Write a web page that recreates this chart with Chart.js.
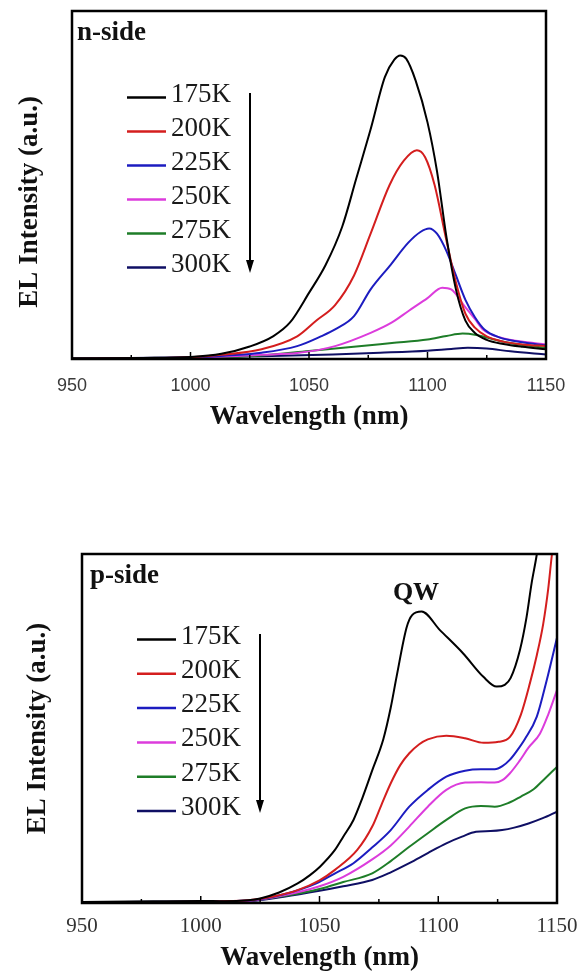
<!DOCTYPE html>
<html>
<head>
<meta charset="utf-8">
<title>EL spectra vs temperature</title>
<script src="https://cdn.jsdelivr.net/npm/chart.js@4.4.1/dist/chart.umd.min.js"></script>
<style>
  body { margin: 0; background: #fff; }
  canvas { position: absolute; left: 0; }
  #nSide { top: 0; }
  #pSide { top: 520px; }
</style>
</head>
<body>
<canvas id="nSide" width="583" height="450"></canvas>
<canvas id="pSide" width="583" height="455"></canvas>
<script>
// temperatures, top to bottom
const temps = ['175K', '200K', '225K', '250K', '275K', '300K'];
const xTicks = [950, 1000, 1050, 1100, 1150];

// n-side spectra: wavelength (nm) / EL intensity (a.u.)
const nWl175 = [950, 980, 1000, 1013, 1025, 1035, 1042, 1050, 1057, 1064, 1070, 1076, 1082, 1086, 1088.5, 1091, 1095, 1100, 1104, 1108, 1112, 1116, 1120, 1125, 1132, 1140, 1150];
const nEl175 = [0.2, 0.3, 0.6, 1.5, 3.6, 6.6, 10.5, 19, 27, 38, 52, 66, 81, 86, 87.2, 86.3, 80, 68, 54, 35, 20, 11, 7.5, 5.5, 4.3, 3.5, 2.8];
const nWl200 = [950, 980, 1000, 1013, 1030, 1045, 1053, 1061, 1069, 1076, 1084, 1090, 1095.5, 1099, 1103, 1107.7, 1112, 1116, 1120, 1125, 1132, 1140, 1150];
const nEl200 = [0.1, 0.2, 0.5, 1.2, 2.8, 6.5, 11, 15.5, 24, 36, 50, 57, 60, 58, 50, 35, 22, 13, 9, 6.5, 5, 4.2, 3.7];
const nWl225 = [950, 980, 1000, 1015, 1030, 1045, 1055, 1061, 1069, 1076, 1084, 1092, 1097, 1100.7, 1104, 1108, 1112, 1116, 1120, 1124, 1130, 1140, 1150];
const nEl225 = [0.1, 0.2, 0.4, 1, 1.8, 3.7, 6.5, 8.5, 12.3, 20, 26.7, 33.5, 36.5, 37.5, 36, 31, 24, 17, 12, 8.5, 6.3, 4.8, 3.9];
const nWl250 = [950, 990, 1010, 1030, 1045, 1061, 1076, 1085, 1092, 1100, 1106.2, 1110, 1115.6, 1120, 1123.4, 1131, 1139, 1150];
const nEl250 = [0, 0.2, 0.6, 1.2, 1.7, 3.7, 7.5, 10.5, 13.8, 17.5, 20.5, 20, 15.2, 11.5, 8.5, 6.1, 5.1, 4.2];
const nWl275 = [950, 1000, 1030, 1050, 1070, 1085, 1100, 1108, 1114.8, 1120, 1131, 1140, 1150];
const nEl275 = [0.1, 0.3, 1, 2.3, 3.6, 4.6, 5.6, 6.6, 7.3, 7, 5.1, 4, 3.2];
const nWl300 = [950, 1000, 1030, 1060, 1080, 1100, 1110, 1117, 1125, 1135, 1150];
const nEl300 = [0.1, 0.5, 0.8, 1.3, 1.8, 2.4, 2.9, 3.2, 3, 2.2, 1.3];

// p-side spectra
const pWl175 = [950, 980, 1000, 1010, 1020, 1025, 1033, 1040.8, 1046, 1050.2, 1056.5, 1060, 1064.3, 1068, 1072.2, 1076.9, 1080, 1082.5, 1086.7, 1089, 1093, 1100.7, 1110.5, 1119, 1124.6, 1128, 1130.5, 1134.4, 1137.2, 1139.3, 1141.4, 1143];
const pEl175 = [0.3, 0.5, 0.6, 0.5, 0.8, 1.3, 3, 5.6, 8, 10.4, 15.2, 19, 23.8, 30, 38, 47, 56, 65, 79, 82.5, 83.5, 78.2, 71.5, 64.8, 62, 62.5, 64.5, 72.5, 82, 91.6, 99.5, 107];
const pWl200 = [950, 1000, 1020, 1030, 1040.8, 1050, 1056.5, 1065.9, 1072.2, 1076, 1080, 1084, 1087.8, 1092, 1095.6, 1103.4, 1111.3, 1119.1, 1125.4, 1130.2, 1134.8, 1138.6, 1141.5, 1144.2, 1146.3, 1147.8, 1149.5];
const pEl200 = [0.2, 0.4, 0.8, 1.8, 3.7, 6.5, 9.5, 15.2, 21.9, 28, 34.3, 39.5, 42.9, 45.5, 46.9, 47.9, 47.2, 45.9, 46.2, 47.6, 54, 63, 71, 80, 90, 99.5, 108];
const pWl225 = [950, 1000, 1020, 1035, 1048.7, 1056, 1064.3, 1072, 1080, 1087.8, 1095.6, 1103.4, 1111.3, 1118, 1123.8, 1127, 1130.1, 1133, 1136.5, 1141.5, 1145.7, 1150];
const pEl225 = [0.2, 0.4, 0.7, 2.5, 5.6, 8.3, 11.4, 15.8, 20.9, 27.6, 32.4, 36.2, 37.9, 38.3, 38.3, 39.2, 41, 43.5, 47, 53.4, 63.9, 76];
const pWl250 = [950, 1000, 1020, 1035, 1050, 1060, 1072.2, 1080, 1087.8, 1095.6, 1103.4, 1111.3, 1118, 1123.8, 1127, 1130.1, 1134, 1138, 1142.8, 1146.3, 1150];
const pEl250 = [0.1, 0.3, 0.6, 2.2, 4.8, 7.5, 12.5, 16.5, 21.9, 27.6, 32.4, 34.5, 34.6, 34.5, 35.2, 37.1, 40.5, 44.5, 48.5, 54, 61];
const pWl275 = [950, 1000, 1020, 1035, 1050, 1060, 1072.2, 1080, 1087.8, 1095.6, 1103.4, 1111.3, 1118, 1123.8, 1130, 1134.8, 1140, 1144.2, 1150];
const pEl275 = [0.1, 0.3, 0.6, 2, 4, 6, 8.5, 12, 16.1, 20, 23.8, 27.1, 27.8, 27.6, 28.8, 30.5, 32.5, 35.2, 39];
const pWl300 = [950, 1000, 1020, 1035, 1050, 1060, 1072.2, 1080, 1087.8, 1095.6, 1103.4, 1110, 1115.9, 1122, 1126.9, 1132, 1138, 1144, 1150];
const pEl300 = [0.1, 0.3, 0.5, 1.8, 3.5, 4.8, 6.6, 8.8, 11.4, 14.3, 17.1, 19, 20.4, 20.6, 20.9, 21.6, 22.8, 24.3, 26.2];

const lineColors = ['#000000', '#d41e1e', '#1c1cc0', '#dc3cdc', '#1e7d28', '#0f0f64'];
const SERIF = '"Liberation Serif", "Times New Roman", serif';

// frame, inner ticks, panel label, legend and arrow
const decor = {
  id: 'decor',
  afterDatasetsDraw(chart, args, o) {
    const { ctx, chartArea: a, scales: { x } } = chart;
    ctx.save();
    ctx.strokeStyle = '#000';
    ctx.lineWidth = 2.5;
    ctx.strokeRect(a.left, a.top, a.right - a.left, a.bottom - a.top);

    ctx.lineWidth = 1.5;
    for (let v = 975; v < 1150; v += 25) {
      const px = x.getPixelForValue(v);
      const len = v % 50 === 0 ? 7 : 4;
      ctx.beginPath();
      ctx.moveTo(px, a.bottom);
      ctx.lineTo(px, a.bottom - len);
      ctx.stroke();
    }

    ctx.fillStyle = '#111';
    ctx.textBaseline = 'alphabetic';
    ctx.font = 'bold 27px ' + SERIF;
    ctx.fillText(o.side, a.left + o.sideX, a.top + 29);
    if (o.peak) {
      ctx.textAlign = 'center';
      ctx.font = 'bold 26px ' + SERIF;
      ctx.fillText(o.peak, a.left + 334, a.top + 46);
      ctx.textAlign = 'left';
    }

    // legend
    ctx.font = '27px ' + SERIF;
    ctx.textBaseline = 'middle';
    chart.data.datasets.forEach((ds, i) => {
      const y = a.top + o.legTop + i * o.legStep;
      ctx.strokeStyle = ds.borderColor;
      ctx.lineWidth = 2.5;
      ctx.beginPath();
      ctx.moveTo(a.left + 55, y);
      ctx.lineTo(a.left + 94, y);
      ctx.stroke();
      ctx.fillStyle = '#1a1a1a';
      ctx.fillText(ds.label, a.left + 99, y - 3);
    });

    // arrow, cooling to warming
    const ax = a.left + 178;
    const y0 = a.top + o.arrowTop, y1 = a.top + o.arrowBottom;
    ctx.strokeStyle = '#000';
    ctx.fillStyle = '#000';
    ctx.lineWidth = 2;
    ctx.beginPath();
    ctx.moveTo(ax, y0);
    ctx.lineTo(ax, y1 - 10);
    ctx.stroke();
    ctx.beginPath();
    ctx.moveTo(ax - 4, y1 - 13);
    ctx.lineTo(ax + 4, y1 - 13);
    ctx.lineTo(ax, y1);
    ctx.closePath();
    ctx.fill();
    ctx.restore();
  }
};

function makeSeries(wls, els) {
  return temps.map((t, i) => ({
    label: t,
    data: wls[i].map((w, j) => ({ x: w, y: els[i][j] })),
    borderColor: lineColors[i],
    borderWidth: 2,
    pointRadius: 0,
    cubicInterpolationMode: 'monotone',
    fill: false
  }));
}

function drawPanel(id, datasets, f) {
  return new Chart(document.getElementById(id), {
    type: 'line',
    data: { datasets },
    options: {
      responsive: false,
      animation: false,
      layout: { padding: { top: f.padTop, right: f.padRight, left: 0, bottom: 0 } },
      plugins: {
        legend: { display: false },
        tooltip: { enabled: false },
        decor: f.decor
      },
      scales: {
        x: {
          type: 'linear',
          min: 950,
          max: 1150,
          afterBuildTicks: s => { s.ticks = xTicks.map(v => ({ value: v })); },
          afterFit: s => { s.height = f.xAxisH; },
          grid: { display: false },
          border: { display: false },
          ticks: {
            font: f.tickFont,
            color: f.tickColor,
            padding: f.tickPad,
            maxRotation: 0,
            callback: v => String(v)
          },
          title: {
            display: true,
            text: 'Wavelength (nm)',
            color: '#111',
            font: { family: SERIF, size: 27, weight: 'bold' },
            padding: { top: 0, bottom: f.xTitlePad }
          }
        },
        y: {
          min: 0,
          max: 100,
          afterFit: s => { s.width = f.yAxisW; },
          grid: { display: false },
          border: { display: false },
          ticks: { display: false },
          title: {
            display: true,
            text: f.yTitle,
            color: '#111',
            font: { family: SERIF, size: 27, weight: 'bold' },
            padding: { top: f.yTitlePad, bottom: 0 }
          }
        }
      }
    },
    plugins: [decor]
  });
}

drawPanel('nSide',
  makeSeries([nWl175, nWl200, nWl225, nWl250, nWl275, nWl300],
             [nEl175, nEl200, nEl225, nEl250, nEl275, nEl300]),
  {
    padTop: 11, padRight: 37, xAxisH: 91, yAxisW: 72,
    tickFont: { family: '"Liberation Sans", Arial, sans-serif', size: 18 },
    tickColor: '#3a3a3a', tickPad: 8, xTitlePad: 17, yTitlePad: 14,
    yTitle: 'EL Intensity (a.u.)\u00a0\u00a0\u00a0\u00a0\u00a0',
    decor: { side: 'n-side', sideX: 5, legTop: 86.5, legStep: 34, arrowTop: 82, arrowBottom: 262 }
  });

drawPanel('pSide',
  makeSeries([pWl175, pWl200, pWl225, pWl250, pWl275, pWl300],
             [pEl175, pEl200, pEl225, pEl250, pEl275, pEl300]),
  {
    padTop: 34, padRight: 26, xAxisH: 72, yAxisW: 82,
    tickFont: { family: SERIF, size: 21 },
    tickColor: '#333', tickPad: 3, xTitlePad: 1, yTitlePad: 22,
    yTitle: 'EL Intensity (a.u.)',
    decor: { side: 'p-side', sideX: 8, peak: 'QW', legTop: 85.5, legStep: 34.3, arrowTop: 80, arrowBottom: 259 }
  });
</script>
</body>
</html>
